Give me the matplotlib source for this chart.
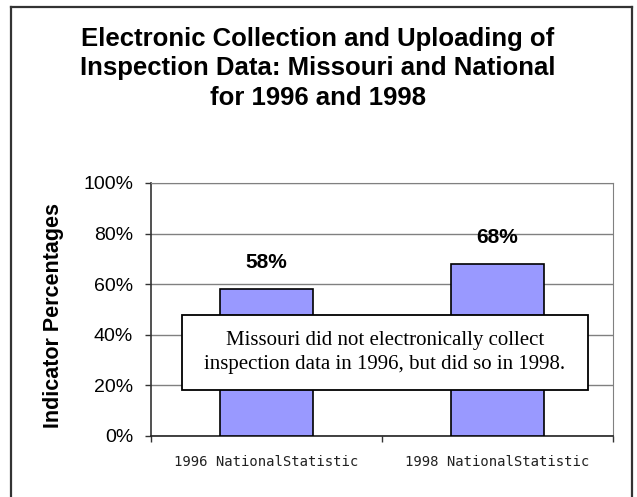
import matplotlib
matplotlib.use('Agg')
import matplotlib.pyplot as plt
from matplotlib.patches import Rectangle
from matplotlib.lines import Line2D

# data
categories = ['1996 NationalStatistic', '1998 NationalStatistic']
values = [58, 68]
value_labels = ['58%', '68%']
yticks = [0, 20, 40, 60, 80, 100]
title = 'Electronic Collection and Uploading of\nInspection Data: Missouri and National\nfor 1996 and 1998'
note = 'Missouri did not electronically collect\ninspection data in 1996, but did so in 1998.'

plt.rcParams['font.family'] = ['Liberation Sans', 'DejaVu Sans']

W, H = 637, 497
fig = plt.figure(figsize=(W / 100, H / 100), dpi=100)

# plot area in pixels: x 151..613, y 183..436
ax = fig.add_axes([151 / W, 1 - 436 / H, 462 / W, 253 / H])

x = list(range(len(categories)))
ax.bar(x, values, width=0.4, color='#9999FF', edgecolor='black', linewidth=1.2, zorder=3)

for xi, v, lab in zip(x, values, value_labels):
    ax.annotate(lab, (xi, v), xytext=(0, 15), textcoords='offset points',
                ha='center', va='baseline', fontsize=15, fontweight='bold')

ax.set_xlim(-0.5, len(categories) - 0.5)
ax.set_ylim(0, 100)
ax.set_yticks(yticks)
ax.set_yticklabels(['%d%%' % t for t in yticks], fontsize=14)
ax.yaxis.grid(True, color='#808080', linewidth=1.0, zorder=0)
ax.tick_params(axis='y', direction='out', length=4.3, width=1, pad=8.5, color='#333333')

# category labels at centres, tick marks at the boundaries
ax.set_xticks([-0.5, 0.5, 1.5])
ax.set_xticklabels([])
ax.set_xticks(x, minor=True)
ax.set_xticklabels(categories, minor=True, fontsize=10, family='DejaVu Sans Mono',
                   color='#222222')
ax.tick_params(axis='x', which='major', direction='out', length=4, width=1, color='#333333')
ax.tick_params(axis='x', which='minor', length=0, pad=14)

ax.spines['left'].set_color('#333333')
ax.spines['bottom'].set_color('#222222')
ax.spines['left'].set_linewidth(1.2)
ax.spines['bottom'].set_linewidth(1.2)
ax.spines['top'].set_color('#808080')
ax.spines['right'].set_color('#808080')

# note box over the bars
ax.add_patch(Rectangle((0.067, 0.182), 0.879, 0.296, transform=ax.transAxes,
                       facecolor='white', edgecolor='black', linewidth=1.3, zorder=5))
ax.text(0.506, 0.33, note, transform=ax.transAxes, ha='center', va='center',
        fontsize=15, family='Liberation Serif', linespacing=1.3, zorder=6)

fig.text(318 / W, 1 - 105 / H, title, ha='center', va='baseline', fontsize=18.5,
         fontweight='bold', linespacing=1.3)
fig.text(54 / W, 1 - 315 / H, 'Indicator Percentages', rotation=90, ha='center',
         va='center', fontsize=15.5, fontweight='bold')

# outer frame: left, top and right only
for xs, ys in [([11, 11], [H, 7]), ([11, 632], [7, 7]), ([632, 632], [7, H])]:
    fig.add_artist(Line2D([v / W for v in xs], [1 - v / H for v in ys],
                          transform=fig.transFigure, color='#333333', linewidth=1.6))

fig.savefig('out.png', dpi=100)
